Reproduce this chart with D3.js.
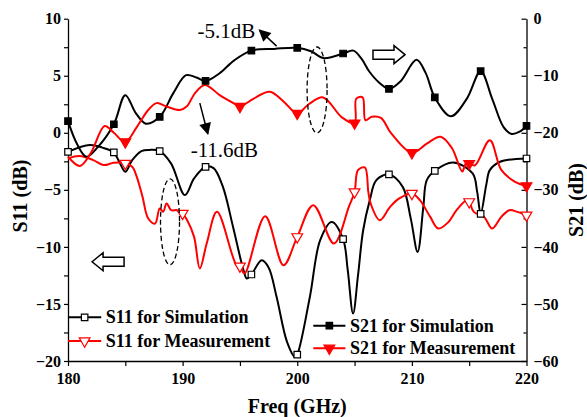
<!DOCTYPE html>
<html><head><meta charset="utf-8">
<script src="https://cdn.jsdelivr.net/npm/d3@7"></script>
<style>
html,body{margin:0;padding:0;background:#fff;}
svg{display:block;}
text{font-family:"Liberation Serif","Times New Roman",serif;}
</style></head>
<body>
<svg id="chart" width="587" height="417"></svg>
<script>
// ---- Data ----
const freqDomain = [180, 220];
const s11Domain = [-20, 10];
const s21Domain = [-60, 0];
const xTickLabels = [180, 190, 200, 210, 220];
const s11TickLabels = [-20, -15, -10, -5, 0, 5, 10];
const s21TickLabels = [-60, -50, -40, -30, -20, -10, 0];

const s21SimFreq = [180,180.8,181.6,182.6,184,185,185.9,186.8,188,189.2,190.3,191.2,192,193.2,194.5,196,198,200,201.2,202.3,204,204.9,205.6,206.3,207.2,208,209,210.4,211.2,212,213.4,214.8,216,217,218,218.7,219.4,220];
const s21SimVal  = [-17.95,-22.0,-24.2,-22.5,-18.5,-13.4,-16.5,-18.4,-17.2,-13,-9.9,-10.3,-10.9,-9.6,-7.3,-5.6,-5.3,-5.1,-5.7,-6.9,-6.1,-5.6,-7.0,-9.3,-11.3,-12.3,-11,-7.2,-9.5,-13.8,-17.1,-14,-9.2,-14,-19,-20.2,-19.8,-18.8];

const s11SimFreq = [180,181.9,183,184,184.5,185,185.6,186.4,187.1,188,189,190.2,191,192,192.7,193.5,194.4,195.3,195.6,196,196.9,197.5,198.2,199.1,199.8,200,201.1,202,203,204,204.4,204.87,205.3,205.75,206.33,206.9,208,209.2,209.9,210.5,211,211.3,212,213.6,215.3,215.7,216,216.5,216.8,217.7,220];
const s11SimVal  = [-1.67,-1.08,-1.3,-1.72,-2.6,-3.42,-2.4,-1.6,-1.5,-1.6,-2.7,-5.46,-4.0,-2.98,-3.1,-4.7,-8.25,-12.0,-12.77,-12.42,-11.17,-11.8,-14.39,-18.3,-19.65,-19.44,-14.39,-9.41,-7.81,-9.32,-12,-15.84,-12.5,-8.54,-5.9,-4.15,-3.65,-4.74,-7.5,-10.44,-6.5,-4.15,-3.33,-2.6,-3.56,-5.2,-7.1,-4.5,-3.27,-2.54,-2.25];

const s21MeasFreq = [180,181.05,182,183.2,184,185,186,187,187.73,188.6,189.76,190.35,191.1,191.94,193.3,194.7,195,196.2,197.6,198.8,200,201,202.26,203.9,205,205.15,205.7,205.95,206.5,207.3,208.2,210,211.3,212.5,213.5,214.4,214.7,215,215.5,216.8,217.8,219,220];
const s21MeasVal  = [-24.2,-25.8,-23.5,-18.8,-20,-21.6,-19,-16,-14.8,-15.4,-16.0,-15.4,-13,-11.6,-13.5,-15.1,-15.4,-14,-12.8,-14.5,-16.6,-15,-13.8,-17.3,-18.3,-14.0,-13.8,-17.8,-17.2,-17.4,-20.1,-23.5,-21.9,-20.7,-22.7,-26.8,-25.4,-25.4,-25.7,-21.3,-26.5,-28.6,-29.3];

const s11MeasFreq = [180,181,182.2,183.1,184,185,185.6,186,186.5,187,187.6,188,188.3,188.6,189,189.5,190,190.4,191,191.5,192.1,193,194.7,195,195.4,197.2,198.8,200,201.4,203.2,204.5,205,205.3,205.9,206.2,206.4,207.2,208.1,208.9,210,210.7,211.6,212.3,213.2,213.9,214.8,215,215.4,216.3,217,217.8,218.5,219.2,220];
const s11MeasVal  = [-2.25,-2.04,-2.39,-2.83,-2.63,-2.68,-2.98,-3.86,-5.61,-7.51,-7.95,-6.63,-6.93,-6.19,-6.78,-6.78,-7.07,-7.66,-9.12,-11.89,-9.7,-6.93,-11.6,-11.69,-12.33,-7.31,-11.6,-9.12,-6.34,-9.7,-6.49,-5.18,-3.27,-3.04,-5.18,-6.19,-7.66,-6.49,-5.75,-5.32,-5.9,-7.37,-8.39,-7.81,-6.78,-5.9,-6.05,-6.93,-7.37,-8.39,-7.37,-6.78,-6.93,-7.22];

const simMarkerFreq = [180,184,188,192,196,200,204,208,212,216,220];
const measMarkerFreq = [185,190,195,200,205,210,215,220];

const legendLeft = ["S11 for Simulation", "S11 for Measurement"];
const legendRight = ["S21 for Simulation", "S21 for Measurement"];
const annoText = ["-5.1dB", "-11.6dB"];

// ---- Layout ----
const svg = d3.select("#chart");
const m = {left: 68, right: 60.5, top: 18.7, bottom: 56};
const W = 587, H = 417;
const x = d3.scaleLinear().domain(freqDomain).range([m.left, W - m.right]);
const yL = d3.scaleLinear().domain(s11Domain).range([H - m.bottom, m.top]);
const yR = d3.scaleLinear().domain(s21Domain).range([H - m.bottom, m.top]);

const RED = "#ff0000";
const zip = (f, v) => f.map((d, i) => [d, v[i]]);
const valAt = (f, v, q) => { const i = f.indexOf(q); return i >= 0 ? v[i] : null; };

// ---- Axes ----
function styleAxis(g, fs) {
  g.selectAll("path.domain").attr("stroke", "#000").attr("stroke-width", 1.3);
  g.selectAll(".tick line").attr("stroke", "#000").attr("stroke-width", 1.2);
  g.selectAll("text").attr("font-family", '"Liberation Serif","Times New Roman",serif')
    .attr("font-weight", "bold").attr("font-size", fs).attr("fill", "#000");
}
// minor ticks
svg.append("g").attr("transform", `translate(${m.left},0)`)
  .call(d3.axisLeft(yL).tickValues(d3.range(-17.5, 10, 5)).tickSize(4).tickFormat(""))
  .call(g => { g.select(".domain").remove(); styleAxis(g, 16); });
svg.append("g").attr("transform", `translate(${W - m.right},0)`)
  .call(d3.axisRight(yR).tickValues(d3.range(-55, 0, 10)).tickSize(-3).tickFormat(""))
  .call(g => { g.select(".domain").remove(); styleAxis(g, 16); });
svg.append("g").attr("transform", `translate(0,${H - m.bottom})`)
  .call(d3.axisBottom(x).tickValues(d3.range(185, 220, 10)).tickSize(5).tickFormat(""))
  .call(g => { g.select(".domain").remove(); styleAxis(g, 16); });

svg.append("g").attr("transform", `translate(${m.left},0)`)
  .call(d3.axisLeft(yL).tickValues(s11TickLabels).tickSize(4).tickSizeOuter(0).tickPadding(3))
  .call(g => styleAxis(g, 16));
svg.append("g").attr("transform", `translate(${W - m.right},0)`)
  .call(d3.axisRight(yR).tickValues(s21TickLabels).tickSize(-5).tickSizeOuter(0).tickPadding(7))
  .call(g => styleAxis(g, 16));
svg.append("g").attr("transform", `translate(0,${H - m.bottom})`)
  .call(d3.axisBottom(x).tickValues(xTickLabels).tickSize(5).tickSizeOuter(0).tickPadding(7))
  .call(g => styleAxis(g, 16));

// axis titles
svg.append("text").attr("x", (m.left + W - m.right) / 2 + 0).attr("y", 413)
  .attr("text-anchor", "middle").attr("font-weight", "bold").attr("font-size", 20).text("Freq (GHz)");
svg.append("text").attr("transform", `translate(27,${196}) rotate(-90)`)
  .attr("text-anchor", "middle").attr("font-weight", "bold").attr("font-size", 20).text("S11 (dB)");
svg.append("text").attr("transform", `translate(583,${200}) rotate(-90)`)
  .attr("text-anchor", "middle").attr("font-weight", "bold").attr("font-size", 20).text("S21 (dB)");

// ---- Lines ----
const lineL = d3.line().x(d => x(d[0])).y(d => yL(d[1])).curve(d3.curveCatmullRom.alpha(0.5));
const lineR = d3.line().x(d => x(d[0])).y(d => yR(d[1])).curve(d3.curveCatmullRom.alpha(0.5));

svg.append("path").datum(zip(s11SimFreq, s11SimVal)).attr("d", lineL)
  .attr("fill", "none").attr("stroke", "#000").attr("stroke-width", 2);
svg.append("path").datum(zip(s11MeasFreq, s11MeasVal)).attr("d", lineL)
  .attr("fill", "none").attr("stroke", RED).attr("stroke-width", 2);
svg.append("path").datum(zip(s21SimFreq, s21SimVal)).attr("d", lineR)
  .attr("fill", "none").attr("stroke", "#000").attr("stroke-width", 2);
svg.append("path").datum(zip(s21MeasFreq, s21MeasVal)).attr("d", lineR)
  .attr("fill", "none").attr("stroke", RED).attr("stroke-width", 2);

// ---- Markers ----
const sq = d3.symbol().type(d3.symbolSquare).size(42);
const tri = d3.symbol().type(d3.symbolTriangle).size(50);
function markers(freqs, f, v, y, sym, fill, stroke, rot) {
  svg.append("g").selectAll("path").data(freqs.map(q => [q, valAt(f, v, q)]).filter(d => d[1] !== null))
    .join("path").attr("d", sym)
    .attr("transform", d => `translate(${x(d[0])},${y(d[1])})${rot ? " rotate(180)" : ""}`)
    .attr("fill", fill).attr("stroke", stroke).attr("stroke-width", 1.2);
}
markers(simMarkerFreq, s11SimFreq, s11SimVal, yL, sq, "#fff", "#000", false);
markers(measMarkerFreq, s11MeasFreq, s11MeasVal, yL, tri, "#fff", RED, true);
markers(simMarkerFreq, s21SimFreq, s21SimVal, yR, sq, "#000", "#000", false);
markers(measMarkerFreq, s21MeasFreq, s21MeasVal, yR, tri, RED, RED, true);

// ---- Annotations ----
const defs = svg.append("defs");
defs.append("marker").attr("id", "ah").attr("viewBox", "0 0 10 10").attr("refX", 9).attr("refY", 5)
  .attr("markerWidth", 14).attr("markerHeight", 12).attr("markerUnits", "userSpaceOnUse").attr("orient", "auto")
  .append("path").attr("d", "M0,0 L10,5 L0,10 Z").attr("fill", "#000");

// -5.1dB arrow
svg.append("line").attr("x1", x(198.2)).attr("y1", yL(7.6)).attr("x2", x(196.7)).attr("y2", yL(9.0))
  .attr("stroke", "#000").attr("stroke-width", 1.5).attr("marker-end", "url(#ah)");
// -11.6dB arrow
svg.append("line").attr("x1", x(191.5)).attr("y1", yL(2.6)).attr("x2", x(192.2)).attr("y2", yL(-0.1))
  .attr("stroke", "#000").attr("stroke-width", 1.5).attr("marker-end", "url(#ah)");

svg.append("text").attr("x", x(191.3)).attr("y", yL(8.35)).attr("font-size", 21).text(annoText[0]);
svg.append("text").attr("x", x(190.7)).attr("y", yL(-2.15)).attr("font-size", 21).text(annoText[1]);

// dashed ellipses
svg.append("ellipse").attr("cx", x(201.73)).attr("cy", yL(3.75)).attr("rx", 10).attr("ry", 43)
  .attr("fill", "none").attr("stroke", "#000").attr("stroke-width", 1.3).attr("stroke-dasharray", "5,3");
svg.append("ellipse").attr("cx", x(188.9)).attr("cy", yL(-7.8)).attr("rx", 9.5).attr("ry", 43)
  .attr("fill", "none").attr("stroke", "#000").attr("stroke-width", 1.3).attr("stroke-dasharray", "5,3");

// hollow arrows
function hollowArrow(tipX, tipY, dir) {
  const s = dir; // 1 = right, -1 = left
  const pts = [[0,0],[-11,-9],[-11,-4.5],[-32,-4.5],[-32,4.5],[-11,4.5],[-11,9]]
    .map(p => [tipX + s * p[0], tipY + p[1]]);
  svg.append("path").attr("d", "M" + pts.map(p => p.join(",")).join("L") + "Z")
    .attr("fill", "#fff").attr("stroke", "#000").attr("stroke-width", 1.5);
}
hollowArrow(x(209.4), yL(6.85), 1);
hollowArrow(x(182.1), yL(-11.3), -1);

// ---- Legends ----
function legend(x0, x1, xt, ys, labels, colors, syms, fills, rots) {
  labels.forEach((lab, i) => {
    const y = ys[i];
    svg.append("line").attr("x1", x0).attr("x2", x1).attr("y1", y).attr("y2", y)
      .attr("stroke", colors[i]).attr("stroke-width", 2);
    svg.append("path").attr("d", syms[i])
      .attr("transform", `translate(${(x0 + x1) / 2},${y})${rots[i] ? " rotate(180)" : ""}`)
      .attr("fill", fills[i]).attr("stroke", colors[i]).attr("stroke-width", 1.2);
    svg.append("text").attr("x", xt).attr("y", y + 6).attr("font-weight", "bold").attr("font-size", 18).text(lab);
  });
}
legend(x(180), x(182.9), x(183.3), [317.3, 341], legendLeft, ["#000", RED], [sq, tri], ["#fff", "#fff"], [false, true]);
legend(x(201.4), x(204.2), x(204.6), [325.7, 348.3], legendRight, ["#000", RED], [sq, tri], ["#000", RED], [false, true]);
</script>
</body></html>
